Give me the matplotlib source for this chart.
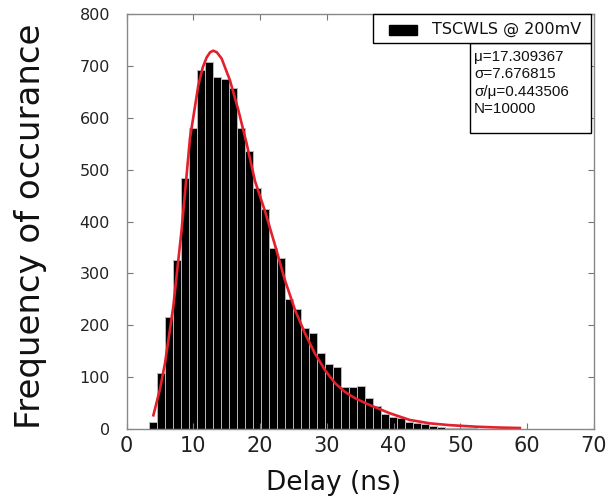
import numpy as np
import matplotlib
matplotlib.use("Agg")
import matplotlib.pyplot as plt
from matplotlib.patches import Rectangle

# histogram: 50 bins over the delay range, counts
bin_start = 3.385
bin_width = 1.198
counts = [15, 108, 217, 326, 483, 581, 692, 707, 679, 674,
          658, 581, 535, 465, 424, 349, 329, 250, 231, 196,
          185, 146, 126, 120, 81, 81, 84, 60, 44, 29,
          24, 21, 15, 13, 11, 7, 5, 3, 3, 2,
          2, 1]

# fitted curve
fit_x = [4.0, 5.0, 5.74, 6.98, 8.23, 9.48, 10.73, 11.4, 11.98, 12.5,
         12.97, 13.5, 14.22, 15.47, 16.72, 17.97, 19.22, 20.72, 22.21, 23.71,
         25.21, 26.7, 28.2, 29.7, 31.2, 32.7, 34.2, 36.0, 39.4, 42.4,
         45.4, 48.4, 52.4, 55.5, 58.9]
fit_y = [27, 78, 127, 236, 384, 560, 662, 697, 716, 726,
         729, 726, 714, 672, 615, 550, 478, 420, 355, 287,
         230, 185, 146, 114, 89, 72, 60, 49, 31, 18,
         11.5, 8, 5, 3.5, 2.5]

stats = ["\u03bc=17.309367", "\u03c3=7.676815", "\u03c3/\u03bc=0.443506", "N=10000"]
legend_label = "TSCWLS @ 200mV"

fig = plt.figure(figsize=(6.14, 4.97), dpi=100)
ax = fig.add_axes([0.2063, 0.1362, 0.7611, 0.836])

lefts = bin_start + bin_width * np.arange(len(counts))
ax.bar(lefts, counts, width=bin_width, align="edge", color="black",
       edgecolor="#b8b8b8", linewidth=0.7)
ax.plot(fit_x, fit_y, color="#e3202b", linewidth=1.9)

ax.set_xlim(0, 70)
ax.set_ylim(0, 800)
ax.set_xticks(range(0, 71, 10))
ax.set_yticks(range(0, 801, 100))
ax.tick_params(direction="in", length=4, color="#777777", top=True, right=True)
ax.tick_params(axis="x", labelsize=15, pad=5, labelcolor="#222222")
ax.tick_params(axis="y", labelsize=11.5, pad=12, labelcolor="#222222")
for s in ax.spines.values():
    s.set_color("#888888")
    s.set_linewidth(1)

fig.text(0.049, 0.545, "Frequency of occurance", rotation=90, fontsize=24.5,
         ha="center", va="center", color="#111111")
fig.text(0.543, 0.002, "Delay (ns)", fontsize=19, ha="center", va="bottom",
         color="#111111")

# legend box (drawn by hand so it matches the wide original frame)
ax.add_patch(Rectangle((0.5271, 0.929), 0.4658, 0.0705, transform=ax.transAxes,
                       facecolor="white", edgecolor="black", linewidth=1,
                       zorder=6, clip_on=False))
ax.add_patch(Rectangle((0.5613, 0.949), 0.0599, 0.0241, transform=ax.transAxes,
                       facecolor="black", edgecolor="black", zorder=7))
ax.text(0.6534, 0.9615, legend_label, transform=ax.transAxes, ha="left",
        va="center", fontsize=11.5, color="#111111", zorder=7)

# stats box under the legend
ax.add_patch(Rectangle((0.7347, 0.713), 0.2582, 0.216, transform=ax.transAxes,
                       facecolor="white", edgecolor="black", linewidth=1,
                       zorder=4))
ax.text(0.7432, 0.914, "\n".join(stats), transform=ax.transAxes,
        ha="left", va="top", fontsize=11, family="Liberation Sans",
        linespacing=1.32, color="#111111", zorder=5)

fig.savefig("out.png", dpi=100)
